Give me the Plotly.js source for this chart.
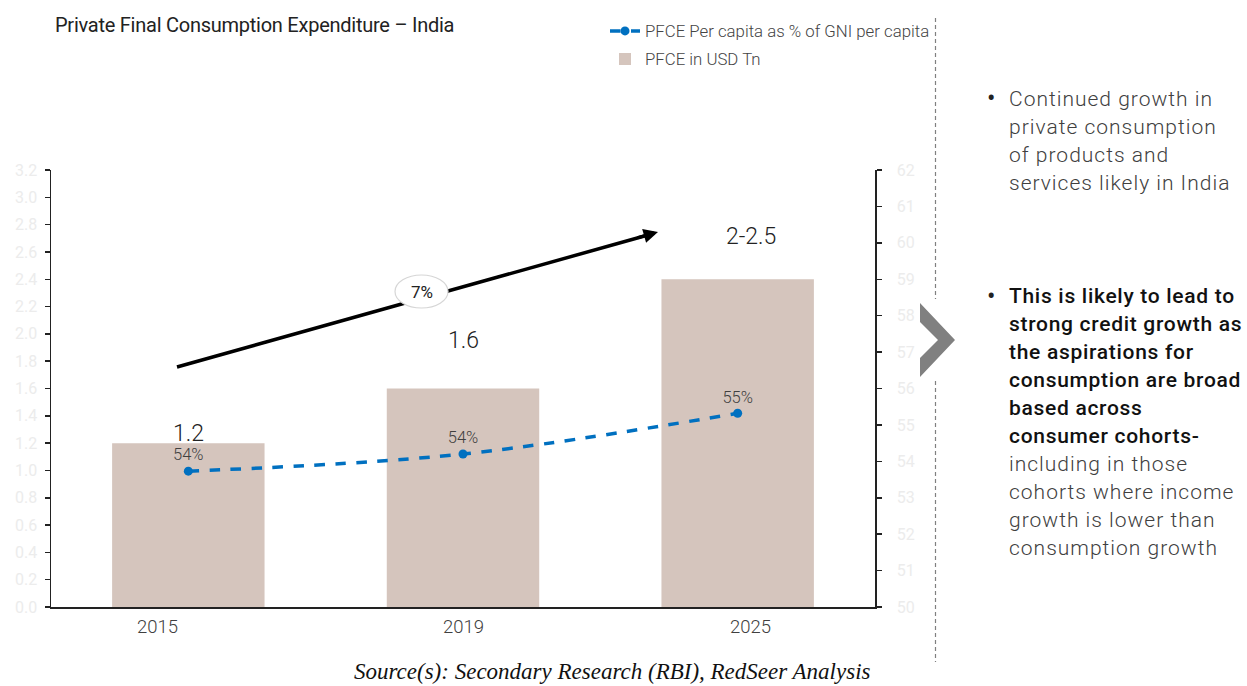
<!DOCTYPE html>
<html><head><meta charset="utf-8">
<script src="https://cdn.plot.ly/plotly-3.0.1.min.js"></script>
<style>html,body{margin:0;padding:0;background:#fff;overflow:hidden;} #chart{width:1247px;height:686px;}</style>
</head><body><div id="chart"></div>
<script>
// ---- data ----
const years = ['2015', '2019', '2025'];
const pfceUsdTn = [1.2, 1.6, 2.4];
const pfceUsdLabels = ['1.2', '1.6', '2-2.5'];
const pfcePerCapitaPct = [53.73, 54.2, 55.32];
const pfcePctLabels = ['54%', '54%', '55%'];
const cagrLabel = '7%';
const titleText = 'Private Final Consumption Expenditure \u2013 India';
const lineName = 'PFCE Per capita as % of GNI per capita';
const barName = 'PFCE in USD Tn';
const bullet1 = ['Continued growth in', 'private consumption', 'of products and', 'services likely in India'];
const bullet2Strong = ['This is likely to lead to', 'strong credit growth as', 'the aspirations for', 'consumption are broad', 'based across', 'consumer cohorts-'];
const bullet2Rest = ['including in those', 'cohorts where income', 'growth is lower than', 'consumption growth'];
const sourceText = 'Source(s): Secondary Research (RBI), RedSeer Analysis';

// ---- geometry helpers (pixel -> paper) ----
const W = 1247, H = 686, L = 51, R = 875, T = 170, B = 607;
const px = x => (x - L) / (R - L);
const py = y => (B - y) / (B - T);
const labelYShift = [10, 48, 43];
const labelXShift = [0, 0, 13];
const tickXShift = [-31, 0, 13];
const lineStep = 28;

const traces = [
  {
    type: 'scatter', x: years, y: pfcePerCapitaPct, yaxis: 'y2', name: lineName, legend: 'legend',
    mode: 'lines+markers+text', text: pfcePctLabels, textposition: 'top center',
    textfont: {family: 'Roboto', size: 16.5, color: '#404040', weight: 300},
    line: {color: '#0070C0', width: 3.5, dash: 'dash', shape: 'spline'},
    marker: {color: '#0070C0', size: 9}, cliponaxis: false
  },
  {
    type: 'bar', x: years, y: pfceUsdTn, name: barName, legend: 'legend2',
    marker: {color: '#D5C5BD'}, width: 0.555
  }
];

const annotations = [];
years.forEach((yr, i) => {
  annotations.push({
    x: i, y: pfceUsdTn[i], xref: 'x', yref: 'y', text: pfceUsdLabels[i], showarrow: false,
    xanchor: 'center', yanchor: 'middle', yshift: labelYShift[i], xshift: labelXShift[i],
    font: {family: 'Roboto', size: 23, color: '#222', weight: 300}
  });
  annotations.push({
    x: i, y: 0, xref: 'x', yref: 'paper', text: yr, showarrow: false,
    xanchor: 'center', yanchor: 'top', yshift: -7, xshift: tickXShift[i],
    font: {family: 'Roboto', size: 18.5, color: '#404040', weight: 300}
  });
});
// arrow head
annotations.push({
  x: px(658), y: py(232), xref: 'paper', yref: 'paper', ax: -22, ay: 6.2, axref: 'pixel', ayref: 'pixel',
  showarrow: true, arrowhead: 2, arrowsize: 0.9, arrowwidth: 3.2, arrowcolor: '#000', text: ''
});
annotations.push({
  x: px(421.5), y: py(291.5), xref: 'paper', yref: 'paper', text: cagrLabel, showarrow: false,
  xanchor: 'center', yanchor: 'middle', font: {family: 'Roboto', size: 17, color: '#222'}
});
// right panel
[99, 296].forEach(yy => annotations.push({
  x: px(985), y: py(yy), xref: 'paper', yref: 'paper', text: '\u2022', showarrow: false,
  xanchor: 'left', yanchor: 'middle', font: {family: 'Roboto', size: 25, color: '#222'}
}));
function addLines(lines, startY, font, spacing) {
  lines.forEach((t, k) => annotations.push({
    x: px(1007), y: py(startY + k * lineStep), xref: 'paper', yref: 'paper',
    text: '<span style="letter-spacing:' + spacing + 'px">' + t + '</span>', showarrow: false,
    xanchor: 'left', yanchor: 'middle', align: 'left', font: font
  }));
}
const lightFont = {family: 'Roboto', size: 21, color: '#404040', weight: 300};
const strongFont = {family: 'Roboto', size: 21, color: '#111', weight: 500};
addLines(bullet1, 99, lightFont, 1.0);
addLines(bullet2Strong, 296, strongFont, 0.7);
addLines(bullet2Rest, 296 + bullet2Strong.length * lineStep, lightFont, 1.0);
annotations.push({
  x: px(612), y: py(671), xref: 'paper', yref: 'paper', text: '<i>' + sourceText + '</i>', showarrow: false,
  xanchor: 'center', yanchor: 'middle', font: {family: 'Liberation Serif', size: 23, color: '#111'}
});

const chevron = [[920,303],[955,340],[920,377],[920,358],[938,340],[920,322]];
const chevPath = 'M' + chevron.map(p => px(p[0]) + ',' + py(p[1])).join(' L') + ' Z';

const shapes = [
  {type: 'line', xref: 'paper', yref: 'paper', x0: px(177), y0: py(367), x1: px(648), y1: py(235),
   line: {color: '#000', width: 3.5}},
  {type: 'circle', xref: 'paper', yref: 'paper', x0: px(395), x1: px(448), y0: py(308), y1: py(275),
   line: {color: '#d6d6d6', width: 1.2}, fillcolor: '#fff'},
  {type: 'line', xref: 'paper', yref: 'paper', x0: px(935.5), x1: px(935.5), y0: py(18), y1: py(299),
   line: {color: '#808080', width: 1.2, dash: '4px,3px'}},
  {type: 'line', xref: 'paper', yref: 'paper', x0: px(935.5), x1: px(935.5), y0: py(381), y1: py(662),
   line: {color: '#808080', width: 1.2, dash: '4px,3px'}},
  {type: 'path', xref: 'paper', yref: 'paper', path: chevPath, fillcolor: '#808080', line: {width: 0}}
];

const axisCommon = {
  showline: true, linecolor: '#222', linewidth: 1.5, ticks: 'outside', ticklen: 5, tickwidth: 1.5,
  tickcolor: '#222', showgrid: false, zeroline: false,
  tickfont: {family: 'Roboto', size: 16, color: '#ececec'}
};

const layout = {
  width: W, height: H,
  margin: {l: L, r: W - R, t: T, b: H - B, pad: 0},
  paper_bgcolor: '#fff', plot_bgcolor: '#fff',
  font: {family: 'Roboto', color: '#222'},
  title: {text: '<span style="letter-spacing:-0.25px">' + titleText + '</span>', x: 55 / W, xanchor: 'left', xref: 'container',
          y: 1 - 25 / H, yref: 'container', yanchor: 'middle',
          font: {family: 'Roboto', size: 20, color: '#222'}},
  xaxis: {type: 'category', range: [-0.5, 2.5], showline: true, linecolor: '#222', linewidth: 1.5, ticks: '',
          showticklabels: false, showgrid: false, zeroline: false},
  yaxis: Object.assign({}, axisCommon, {range: [0, 3.2], tick0: 0, dtick: 0.2, tickformat: '.1f', ticklabelstandoff: 4}),
  yaxis2: Object.assign({}, axisCommon, {range: [50, 62], tick0: 50, dtick: 1, overlaying: 'y', side: 'right', ticklabelstandoff: 12}),
  legend: {x: px(605), y: py(31), xanchor: 'left', yanchor: 'middle', bgcolor: 'rgba(0,0,0,0)',
           font: {family: 'Roboto', size: 16.8, color: '#444', weight: 300}},
  legend2: {x: px(605), y: py(59), xanchor: 'left', yanchor: 'middle', bgcolor: 'rgba(0,0,0,0)',
           font: {family: 'Roboto', size: 16.8, color: '#444', weight: 300}},
  showlegend: true,
  hovermode: false,
  annotations: annotations,
  shapes: shapes
};

Plotly.newPlot('chart', traces, layout, {displayModeBar: false, staticPlot: true});
</script>
</body></html>
